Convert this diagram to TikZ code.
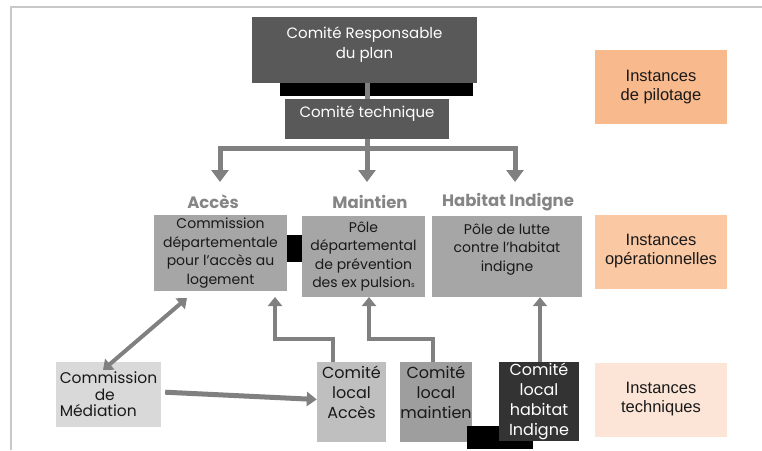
\documentclass[tikz,border=0pt]{standalone}
\usepackage{fontspec}
\setmainfont{Poppins}
\newfontfamily\arialfont{Liberation Sans}
\usetikzlibrary{arrows.meta}
\definecolor{darkbox}{HTML}{595959}
\definecolor{greybox}{HTML}{A6A6A6}
\definecolor{linkgray}{HTML}{808080}
\definecolor{framegray}{HTML}{C8C8C8}
\definecolor{pilotcol}{HTML}{F8B98C}
\definecolor{opercol}{HTML}{FAC8A3}
\definecolor{techcol}{HTML}{FCE5D7}
\tikzset{
  >={Triangle[length=12pt,width=17pt]},
}
\tikzstyle{box}=[rectangle,inner sep=0pt,align=center,text=black!90]
\tikzstyle{link}=[line width=5pt,draw=linkgray]
\tikzstyle{uplink}=[line width=4pt,draw=linkgray,-{Triangle[length=9pt,width=14pt]}]
\tikzstyle{level}=[box,minimum width=132pt,minimum height=74pt,
  font=\arialfont\fontsize{16.5}{19}\selectfont]
\tikzstyle{branch}=[font=\fontsize{16.5}{19}\selectfont\bfseries,text=black!48]

\begin{document}
\begin{tikzpicture}[x=1pt,y=-1pt]
        \useasboundingbox (0,0) rectangle (762,450);
        \draw[framegray,line width=2pt] (762,7) -- (11,7) -- (11,450);
        % pilotage
        \node[box,fill=darkbox,text=white,minimum width=225pt,minimum height=66pt,
          font=\fontsize{15}{20}\selectfont] (resp) at (364.5,50)
          {Comité Responsable\\du plan\\[-6pt]};
        \fill[black] (280,83) rectangle (473,96);
        \node[box,fill=darkbox,text=white,minimum width=164pt,minimum height=40pt,
          font=\fontsize{15}{20}\selectfont] (tech) at (367,119)
          {Comité technique\\[-6pt]};
        \draw[link] (tech.north |- resp.south) -- (tech.north);
        \coordinate (fork) at (367,148);
        \coordinate (accT) at (220,182);
        \coordinate (habT) at (515,182);
        \draw[link,->] (tech.south) -- (tech.south |- accT);
        \draw[link,->] (tech.south) -- (fork) -| (accT);
        \draw[link,->] (fork) -| (habT);
        % operationnel
        \node[branch] (accL) at (213,202) {Accès};
        \node[branch] (mainL) at (370,202) {Maintien};
        \node[branch] (habL) at (508,202) {Habitat Indigne};
        \node[box,fill=greybox,minimum width=133pt,minimum height=76pt,
          font=\fontsize{14}{18.5}\selectfont] (cda) at (220.5,253)
          {Commission\\départementale\\pour l'accès au\\logement};
        \fill[black] (287,235) rectangle (302,262);
        \node[box,fill=greybox,minimum width=123pt,minimum height=81pt,
          font=\fontsize{14}{18.5}\selectfont] (pdpe) at (363.5,256.5)
          {Pôle\\départemental\\de prévention\\des ex pulsion{\scriptsize s}};
        \node[box,fill=greybox,minimum width=150pt,minimum height=81pt,
          font=\fontsize{14}{18.5}\selectfont] (plhi) at (507,256.5)
          {Pôle de lutte\\contre l'habitat\\indigne\\\mbox{}};
        % technique
        \node[box,fill=black!15,minimum width=105pt,minimum height=65pt,align=left,
          font=\fontsize{15.5}{16.5}\selectfont] (med) at (108.5,394.5)
          {Commission\\\hspace*{35pt}de\\Médiation};
        \node[box,fill=black!25,minimum width=69pt,minimum height=80pt,
          font=\fontsize{16}{20}\selectfont] (cla) at (351.5,402)
          {Comité\\local\\Accès\\\mbox{}};
        \node[box,fill=black!38,minimum width=72pt,minimum height=80pt,
          font=\fontsize{16}{20}\selectfont] (clm) at (436,402)
          {Comité\\local\\maintien\\\mbox{}};
        \fill[black] (467,426) rectangle (533,449);
        \node[box,fill=black!80,text=white,minimum width=80pt,minimum height=79pt,
          font=\fontsize{16}{20}\selectfont] (clh) at (539,401.5)
          {Comité\\local\\habitat\\Indigne};
        \coordinate (accUp) at (275,297);
        \coordinate (mainUp) at (369,297);
        \coordinate (dTop) at (187,298);
        \coordinate (dBot) at (103,370);
        \draw[uplink] ([xshift=-18.5pt]cla.north) -- ++(0,-23) -| (accUp);
        \draw[uplink] ([xshift=-3pt]clm.north) -- ++(0,-23) -| (mainUp);
        \draw[uplink] ([xshift=1pt]clh.north) -- ([xshift=1pt]clh.north |- plhi.south);
        \draw[uplink,{Triangle[length=9pt,width=14pt]}-{Triangle[length=9pt,width=14pt]}]
          (dBot) -- (dTop);
        \draw[link,-{Triangle[length=10pt,width=14pt]},shorten <=4pt]
          ([yshift=2.5pt]med.east) -- ([yshift=2.5pt]cla.west);
        % instances
        \node[level,fill=pilotcol] (pil) at (661,87) {Instances\\de pilotage};
        \node[level,fill=opercol] (oper) at (661,251.5) {Instances\\opérationnelles};
        \node[level,fill=techcol] (techn) at (661,399.5) {Instances\\techniques};
      \end{tikzpicture}
\end{document}
